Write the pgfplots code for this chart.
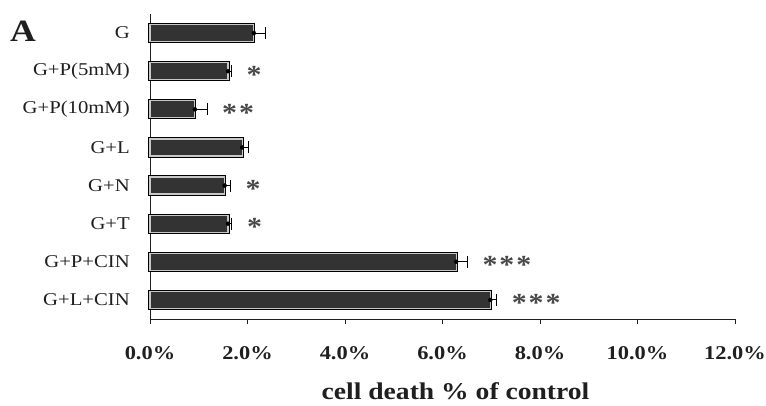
\documentclass[border=0pt]{standalone}
\usepackage{pgfplots}
\pgfplotsset{compat=1.18}
\usepackage{fontspec}
\setmainfont{Liberation Serif}[FakeStretch=1.15]

\definecolor{barfill}{gray}{0.2}
\definecolor{barrim}{gray}{0.78}
\definecolor{ink}{gray}{0.12}

% significance marks
\newcommand{\st}{{\fontsize{26}{26}\selectfont\bfseries *}}
\newcommand{\starrow}[1]{\ifcase#1\or\st\or\st\hspace{2pt}\st\or\st\hspace{2pt}\st\hspace{2pt}\st\fi}

\begin{document}
\begin{tikzpicture}
\useasboundingbox (0pt,0pt) rectangle (766pt,405pt);

\node[anchor=base west, inner sep=0, text=ink,
      font=\fontsize{31}{31}\selectfont\bfseries] at (10pt,363pt) {A};

\begin{axis}[
  at={(150pt,86pt)}, anchor=south west,
  scale only axis, width=585pt, height=305pt,
  xmin=0, xmax=12, ymin=-0.5, ymax=7.5, y dir=reverse,
  axis x line*=bottom, axis y line*=left,
  axis line style={-, line width=0.9pt, ink},
  tick align=outside, major tick length=5pt, minor tick length=6pt,
  tick style={line width=0.9pt, ink},
  xtick={0,2,4,6,8,10,12},
  xticklabels={0.0\%,2.0\%,4.0\%,6.0\%,8.0\%,10.0\%,12.0\%},
  xticklabel style={font=\fontsize{19.5}{20}\selectfont\bfseries, text=ink,
                    inner sep=0pt, anchor=north, yshift=-22pt},
  ytick={0,...,7},
  yticklabels={G,G+P(5mM),G+P(10mM),G+L,G+N,G+T,G+P+CIN,G+L+CIN},
  ytick style={draw=none},
  minor ytick={-0.5,0.5,...,7.5},
  yticklabel style={font=\fontsize{18}{18}\selectfont, text=ink,
                    inner sep=0pt, anchor=east, xshift=-15pt},
  xlabel={cell death \% of control},
  xlabel style={font=\fontsize{24}{24}\selectfont\bfseries, text=ink,
                at={(axis description cs:0.5,0)}, anchor=base,
                yshift=-80pt, xshift=13pt},
  clip=false,
]

% bars: dark fill with a light rim inside a thin black outline
\addplot[xbar, bar width=17pt, bar shift=0pt, fill=barfill,
         draw=barrim, line width=1.2pt,
         preaction={draw=black, line width=3.2pt}]
  table[x=v, y=i] {
    i v    e
    0 2.13 0.23
    1 1.60 0.07
    2 0.92 0.25
    3 1.89 0.12
    4 1.53 0.12
    5 1.60 0.08
    6 6.28 0.23
    7 6.98 0.13
  };

% error bars (plus direction only)
\addplot[only marks, mark=none,
         error bars/.cd, x dir=plus, x explicit,
         error bar style={line width=0.9pt, black},
         error mark options={rotate=90, mark size=6pt, line width=0.9pt, black}]
  table[x=v, y=i, x error=e] {
    i v    e
    0 2.13 0.23
    1 1.60 0.07
    2 0.92 0.25
    3 1.89 0.12
    4 1.53 0.12
    5 1.60 0.08
    6 6.28 0.23
    7 6.98 0.13
  };

% significance asterisks, just right of the error bars
\addplot[only marks, mark=none, point meta=explicit symbolic,
         nodes near coords={\starrow{\pgfplotspointmeta}},
         every node near coord/.append style={anchor=base west, inner sep=0pt,
            xshift=15pt, yshift=-12pt, text=black!72}]
  table[x=x, y=i, meta=n] {
    i x    n
    1 1.67 1
    2 1.17 2
    4 1.65 1
    5 1.68 1
    6 6.51 3
    7 7.11 3
  };

\end{axis}
\end{tikzpicture}
\end{document}
